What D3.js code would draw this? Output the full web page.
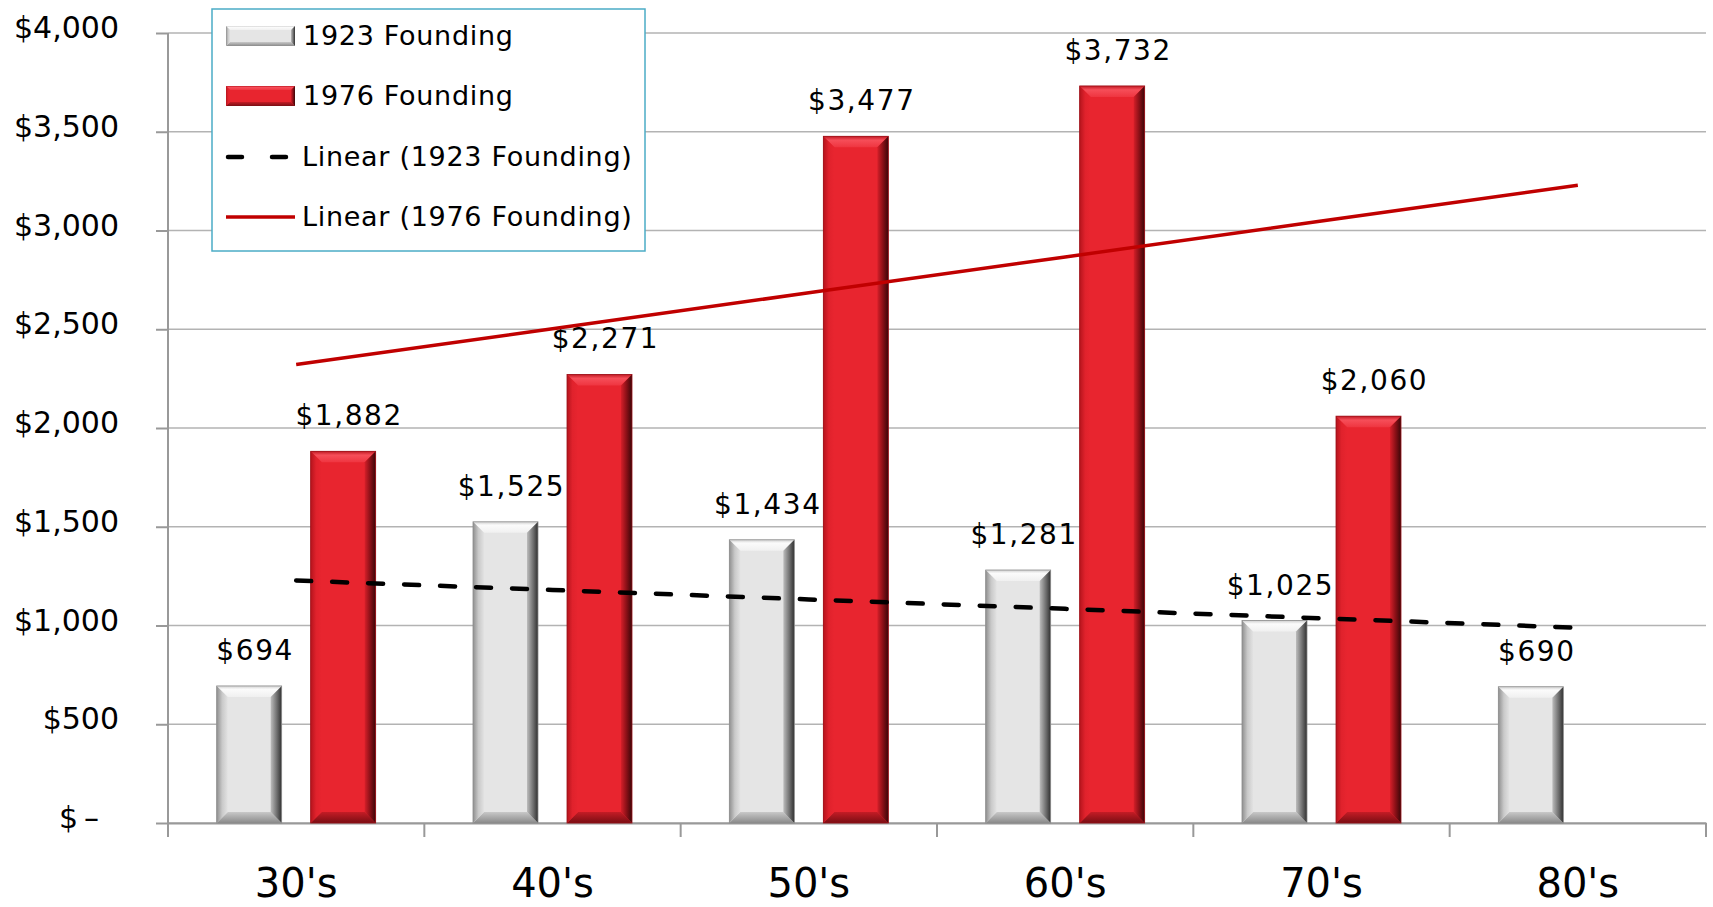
<!DOCTYPE html>
<html>
<head>
<meta charset="utf-8">
<script src="https://cdn.jsdelivr.net/npm/d3@7"></script>
<style>
  body { margin: 0; background: #fff; }
  text { font-family: "DejaVu Sans", Verdana, sans-serif; fill: #000; }
</style>
</head>
<body>
<div id="chart"></div>
<script>
// data
var decades = ["30's", "40's", "50's", "60's", "70's", "80's"];
var founding1923 = [694, 1525, 1434, 1281, 1025, 690];
var founding1976 = [1882, 2271, 3477, 3732, 2060, null];
var yTicks = [0, 500, 1000, 1500, 2000, 2500, 3000, 3500, 4000];
var legendNames = ["1923 Founding", "1976 Founding", "Linear (1923 Founding)", "Linear (1976 Founding)"];

var svgWidth = 1713;
var svgHeight = 907;
var margin = { top: 33, right: 7, bottom: 84, left: 168 };
var width = svgWidth - margin.left - margin.right;
var height = svgHeight - margin.top - margin.bottom;

var svg = d3.select("#chart").append("svg")
  .attr("width", svgWidth)
  .attr("height", svgHeight);

var defs = svg.append("defs");
function grad(id, x1, y1, x2, y2, stops) {
  var g = defs.append("linearGradient").attr("id", id)
    .attr("x1", x1).attr("y1", y1).attr("x2", x2).attr("y2", y2);
  stops.forEach(function(s) {
    g.append("stop").attr("offset", s[0]).attr("stop-color", s[1]);
  });
}
// gray bevel gradients
grad("gTop", 0, 0, 0, 1, [[0, "#cfcfcf"], [0.3, "#fbfbfb"], [1, "#f0f0f0"]]);
grad("gLeft", 0, 0, 1, 0, [[0, "#8f8f8f"], [0.5, "#c9c9c9"], [1, "#e2e2e2"]]);
grad("gRight", 0, 0, 1, 0, [[0, "#bdbdbd"], [0.6, "#6a6a6a"], [1, "#303030"]]);
grad("gBottom", 0, 0, 0, 1, [[0, "#c8c8c8"], [1, "#8a8a8a"]]);
// red bevel gradients
grad("rTop", 0, 0, 0, 1, [[0, "#c01a24"], [0.35, "#f64e59"], [1, "#ef3540"]]);
grad("rLeft", 0, 0, 1, 0, [[0, "#b5141d"], [0.5, "#e0222c"], [1, "#e8252f"]]);
grad("rRight", 0, 0, 1, 0, [[0, "#d51f29"], [0.5, "#8a1017"], [1, "#3a0608"]]);
grad("rBottom", 0, 0, 0, 1, [[0, "#c41c25"], [1, "#7a0e14"]]);

var chartGroup = svg.append("g")
  .attr("transform", `translate(${margin.left}, ${margin.top})`);

var xScale = d3.scaleBand()
  .domain(decades)
  .range([0, width])
  .paddingInner(0)
  .paddingOuter(0);

var yScale = d3.scaleLinear()
  .domain([0, 4000])
  .range([height, 0]);

// gridlines
chartGroup.append("g")
  .selectAll("line")
  .data(yTicks)
  .enter()
  .append("line")
  .attr("x1", 0)
  .attr("x2", width)
  .attr("y1", d => yScale(d))
  .attr("y2", d => yScale(d))
  .attr("stroke", "#b3b3b3")
  .attr("stroke-width", 1.5);

// left axis
var leftAxis = d3.axisLeft(yScale)
  .tickValues(yTicks)
  .tickSize(12)
  .tickFormat(d => d === 0 ? "$\u2009\u2013" : "$" + d3.format(",")(d));

var yAxisG = chartGroup.append("g").call(leftAxis);
yAxisG.select(".domain").remove();
yAxisG.selectAll(".tick line").attr("stroke", "#999").attr("stroke-width", 2);
yAxisG.selectAll(".tick text")
  .attr("x", d => d === 0 ? -69 : -49)
  .attr("dy", "0.32em")
  .attr("y", -5)
  .style("font-size", "30px")
  .attr("font-family", null);

chartGroup.append("line")
  .attr("x1", 0).attr("x2", 0)
  .attr("y1", 0).attr("y2", height + 14)
  .attr("stroke", "#999").attr("stroke-width", 2);

// bottom axis
var bottomAxis = d3.axisBottom(xScale).tickSize(0).tickPadding(40);
var xAxisG = chartGroup.append("g")
  .attr("transform", `translate(0, ${height})`)
  .call(bottomAxis);
xAxisG.select(".domain").attr("stroke", "#999").attr("stroke-width", 2);
xAxisG.selectAll(".tick text")
  .attr("y", 74)
  .attr("dy", 0)
  .style("font-size", "40px")
  .attr("font-family", null);

// category separator ticks
xAxisG.append("g")
  .selectAll("line")
  .data(decades.concat(["end"]))
  .enter()
  .append("line")
  .attr("x1", (d, i) => i < decades.length ? xScale(d) : width)
  .attr("x2", (d, i) => i < decades.length ? xScale(d) : width)
  .attr("y1", 0)
  .attr("y2", 14)
  .attr("stroke", "#999")
  .attr("stroke-width", 2);

// bevelled bar
function bevelBar(g, x, w, v, pre) {
  var y0 = yScale(v), y1 = yScale(0);
  var b = Math.min(11, (y1 - y0) / 2);
  var x1 = x + w;
  var bar = g.append("g");
  bar.append("rect").attr("x", x).attr("y", y0).attr("width", w).attr("height", y1 - y0)
    .attr("fill", pre === "g" ? "#e5e5e5" : "#e8252f");
  var pts = {
    Top: [[x, y0], [x1, y0], [x1 - b, y0 + b], [x + b, y0 + b]],
    Left: [[x, y0], [x + b, y0 + b], [x + b, y1 - b], [x, y1]],
    Right: [[x1, y0], [x1, y1], [x1 - b, y1 - b], [x1 - b, y0 + b]],
    Bottom: [[x, y1], [x + b, y1 - b], [x1 - b, y1 - b], [x1, y1]]
  };
  ["Top", "Bottom", "Left", "Right"].forEach(function(k) {
    bar.append("polygon")
      .attr("points", pts[k].map(p => p.join(",")).join(" "))
      .attr("fill", "url(#" + pre + k + ")");
  });
  bar.append("rect").attr("x", x).attr("y", y0).attr("width", w).attr("height", y1 - y0)
    .attr("fill", "none").attr("stroke", pre === "g" ? "#8c8c8c" : "#9a1018").attr("stroke-width", 0.8);
}

var barW = 65;
var gap = 29;
decades.forEach(function(dec, i) {
  var c = xScale(dec) + xScale.bandwidth() / 2;
  var gx = c - gap / 2 - barW;
  var rx = c + gap / 2;
  if (founding1923[i] != null) {
    bevelBar(chartGroup, gx, barW, founding1923[i], "g");
    chartGroup.append("text")
      .attr("x", gx + barW / 2 + 6)
      .attr("y", yScale(founding1923[i]) - 26)
      .attr("text-anchor", "middle")
      .style("font-size", "28px")
      .style("letter-spacing", "1.6px")
      .text("$" + d3.format(",")(founding1923[i]));
  }
  if (founding1976[i] != null) {
    bevelBar(chartGroup, rx, barW, founding1976[i], "r");
    chartGroup.append("text")
      .attr("x", rx + barW / 2 + 6)
      .attr("y", yScale(founding1976[i]) - 26)
      .attr("text-anchor", "middle")
      .style("font-size", "28px")
      .style("letter-spacing", "1.6px")
      .text("$" + d3.format(",")(founding1976[i]));
  }
});

// linear trendlines (least squares, x = 1..n, projected to last category)
function trend(vals) {
  var pts = vals.map((v, i) => [i + 1, v]).filter(p => p[1] != null);
  var mx = d3.mean(pts, p => p[0]), my = d3.mean(pts, p => p[1]);
  var sxy = d3.sum(pts, p => (p[0] - mx) * (p[1] - my));
  var sxx = d3.sum(pts, p => (p[0] - mx) * (p[0] - mx));
  var m = sxy / sxx;
  return decades.map((d, i) => [d, my + m * (i + 1 - mx)]);
}
var trendLine = d3.line()
  .x(d => xScale(d[0]) + xScale.bandwidth() / 2)
  .y(d => yScale(d[1]));

chartGroup.append("path")
  .datum(trend(founding1976))
  .attr("d", trendLine)
  .attr("fill", "none")
  .attr("stroke", "#c00000")
  .attr("stroke-width", 3.5);

chartGroup.append("path")
  .datum(trend(founding1923))
  .attr("d", trendLine)
  .attr("fill", "none")
  .attr("stroke", "#000")
  .attr("stroke-width", 4.5)
  .attr("stroke-linecap", "round")
  .attr("stroke-dasharray", "15,21");

// legend
var legend = svg.append("g");
legend.append("rect")
  .attr("x", 212).attr("y", 9)
  .attr("width", 433).attr("height", 242)
  .attr("fill", "#fff")
  .attr("stroke", "#4bacc6")
  .attr("stroke-width", 1.5);

var rowY = [36, 96, 157, 217];
function legendBar(x, y, w, h, pre, base) {
  var b = 4;
  var g = legend.append("g");
  g.append("rect").attr("x", x).attr("y", y).attr("width", w).attr("height", h).attr("fill", base);
  var x1 = x + w, y1 = y + h;
  var pts = {
    Top: [[x, y], [x1, y], [x1 - b, y + b], [x + b, y + b]],
    Left: [[x, y], [x + b, y + b], [x + b, y1 - b], [x, y1]],
    Right: [[x1, y], [x1, y1], [x1 - b, y1 - b], [x1 - b, y + b]],
    Bottom: [[x, y1], [x + b, y1 - b], [x1 - b, y1 - b], [x1, y1]]
  };
  ["Top", "Bottom", "Left", "Right"].forEach(function(k) {
    g.append("polygon")
      .attr("points", pts[k].map(p => p.join(",")).join(" "))
      .attr("fill", "url(#" + pre + k + ")");
  });
}
legendBar(226, rowY[0] - 10, 69, 20, "g", "#e5e5e5");
legendBar(226, rowY[1] - 10, 69, 20, "r", "#e8252f");
legend.append("line")
  .attr("x1", 228).attr("x2", 286)
  .attr("y1", rowY[2]).attr("y2", rowY[2])
  .attr("stroke", "#000").attr("stroke-width", 4.5)
  .attr("stroke-linecap", "round")
  .attr("stroke-dasharray", "14,30");
legend.append("line")
  .attr("x1", 226).attr("x2", 295)
  .attr("y1", rowY[3]).attr("y2", rowY[3])
  .attr("stroke", "#c00000").attr("stroke-width", 3.5);

legend.selectAll("text.leg")
  .data(legendNames)
  .enter()
  .append("text")
  .attr("class", "leg")
  .attr("x", (d, i) => i < 2 ? 303 : 302)
  .attr("y", (d, i) => rowY[i])
  .attr("dy", "0.35em")
  .style("font-size", "27px")
  .style("letter-spacing", "0.7px")
  .text(d => d);
</script>
</body>
</html>
